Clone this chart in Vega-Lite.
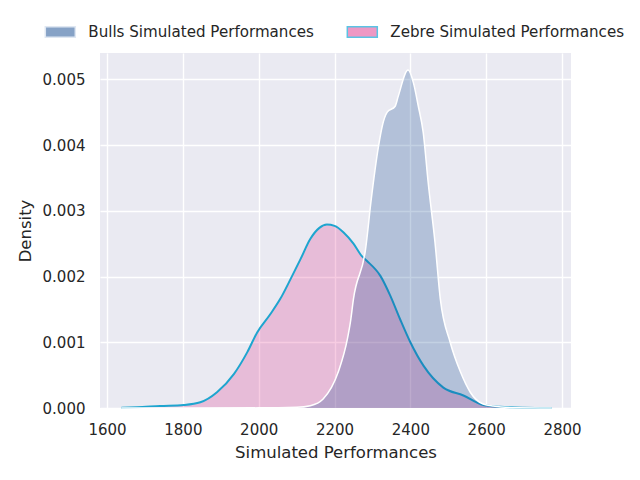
{
  "$schema": "https://vega.github.io/schema/vega-lite/v6.json",
  "autosize": {"type": "none"},
  "padding": {"left": 100, "top": 53, "right": 69, "bottom": 72},
  "width": 471,
  "height": 355,
  "background": "white",
  "config": {
    "font": "DejaVu Sans",
    "view": {"fill": "#eaeaf2", "stroke": null},
    "axis": {
      "domain": false,
      "ticks": false,
      "gridColor": "white",
      "gridWidth": 1.4,
      "labelFont": "DejaVu Sans",
      "labelFontSize": 15,
      "labelColor": "#262626",
      "titleFont": "DejaVu Sans",
      "titleFontSize": 16.5,
      "titleFontWeight": "normal",
      "titleColor": "#262626"
    },
    "legend": {
      "labelFont": "DejaVu Sans",
      "labelFontSize": 15.1,
      "labelColor": "#262626",
      "labelLimit": 400
    }
  },
  "datasets": {
    "kde": [
      {"team": "Zebre Simulated Performances", "perf": 1638, "density": 0.000002},
      {"team": "Zebre Simulated Performances", "perf": 1679, "density": 0.00001},
      {"team": "Zebre Simulated Performances", "perf": 1740, "density": 0.00003},
      {"team": "Zebre Simulated Performances", "perf": 1802, "density": 0.000046},
      {"team": "Zebre Simulated Performances", "perf": 1846, "density": 0.000087},
      {"team": "Zebre Simulated Performances", "perf": 1890, "density": 0.00024},
      {"team": "Zebre Simulated Performances", "perf": 1935, "density": 0.00052},
      {"team": "Zebre Simulated Performances", "perf": 1970, "density": 0.00085},
      {"team": "Zebre Simulated Performances", "perf": 1996, "density": 0.00115},
      {"team": "Zebre Simulated Performances", "perf": 2031, "density": 0.00143},
      {"team": "Zebre Simulated Performances", "perf": 2057, "density": 0.00166},
      {"team": "Zebre Simulated Performances", "perf": 2084, "density": 0.00196},
      {"team": "Zebre Simulated Performances", "perf": 2110, "density": 0.00226},
      {"team": "Zebre Simulated Performances", "perf": 2136, "density": 0.00257},
      {"team": "Zebre Simulated Performances", "perf": 2160, "density": 0.00274},
      {"team": "Zebre Simulated Performances", "perf": 2180, "density": 0.00279},
      {"team": "Zebre Simulated Performances", "perf": 2200, "density": 0.00277},
      {"team": "Zebre Simulated Performances", "perf": 2224, "density": 0.00267},
      {"team": "Zebre Simulated Performances", "perf": 2250, "density": 0.0025},
      {"team": "Zebre Simulated Performances", "perf": 2272, "density": 0.00231},
      {"team": "Zebre Simulated Performances", "perf": 2285, "density": 0.00224},
      {"team": "Zebre Simulated Performances", "perf": 2321, "density": 0.00201},
      {"team": "Zebre Simulated Performances", "perf": 2347, "density": 0.00171},
      {"team": "Zebre Simulated Performances", "perf": 2373, "density": 0.00135},
      {"team": "Zebre Simulated Performances", "perf": 2400, "density": 0.001},
      {"team": "Zebre Simulated Performances", "perf": 2435, "density": 0.00064},
      {"team": "Zebre Simulated Performances", "perf": 2487, "density": 0.00031},
      {"team": "Zebre Simulated Performances", "perf": 2540, "density": 0.00019},
      {"team": "Zebre Simulated Performances", "perf": 2592, "density": 0.000046},
      {"team": "Zebre Simulated Performances", "perf": 2636, "density": 0.00002},
      {"team": "Zebre Simulated Performances", "perf": 2700, "density": 0.000005},
      {"team": "Zebre Simulated Performances", "perf": 2772, "density": 0},
      {"team": "Bulls Simulated Performances", "perf": 1638, "density": 0},
      {"team": "Bulls Simulated Performances", "perf": 2000, "density": 0.000002},
      {"team": "Bulls Simulated Performances", "perf": 2100, "density": 0.00001},
      {"team": "Bulls Simulated Performances", "perf": 2136, "density": 0.000035},
      {"team": "Bulls Simulated Performances", "perf": 2170, "density": 0.000137},
      {"team": "Bulls Simulated Performances", "perf": 2210, "density": 0.00055},
      {"team": "Bulls Simulated Performances", "perf": 2234, "density": 0.00105},
      {"team": "Bulls Simulated Performances", "perf": 2242, "density": 0.00131},
      {"team": "Bulls Simulated Performances", "perf": 2250, "density": 0.00166},
      {"team": "Bulls Simulated Performances", "perf": 2282, "density": 0.00242},
      {"team": "Bulls Simulated Performances", "perf": 2297, "density": 0.00318},
      {"team": "Bulls Simulated Performances", "perf": 2316, "density": 0.00398},
      {"team": "Bulls Simulated Performances", "perf": 2326, "density": 0.00429},
      {"team": "Bulls Simulated Performances", "perf": 2339, "density": 0.0045},
      {"team": "Bulls Simulated Performances", "perf": 2360, "density": 0.00459},
      {"team": "Bulls Simulated Performances", "perf": 2368, "density": 0.00474},
      {"team": "Bulls Simulated Performances", "perf": 2394, "density": 0.00514},
      {"team": "Bulls Simulated Performances", "perf": 2408, "density": 0.00495},
      {"team": "Bulls Simulated Performances", "perf": 2421, "density": 0.00459},
      {"team": "Bulls Simulated Performances", "perf": 2434, "density": 0.00419},
      {"team": "Bulls Simulated Performances", "perf": 2447, "density": 0.00343},
      {"team": "Bulls Simulated Performances", "perf": 2465, "density": 0.00252},
      {"team": "Bulls Simulated Performances", "perf": 2479, "density": 0.00166},
      {"team": "Bulls Simulated Performances", "perf": 2505, "density": 0.001},
      {"team": "Bulls Simulated Performances", "perf": 2532, "density": 0.00055},
      {"team": "Bulls Simulated Performances", "perf": 2558, "density": 0.00024},
      {"team": "Bulls Simulated Performances", "perf": 2592, "density": 0.00006},
      {"team": "Bulls Simulated Performances", "perf": 2618, "density": 0.00003},
      {"team": "Bulls Simulated Performances", "perf": 2680, "density": 0.000005},
      {"team": "Bulls Simulated Performances", "perf": 2772, "density": 0}
    ]
  },
  "data": {"name": "kde"},
  "encoding": {
    "x": {
      "field": "perf",
      "type": "quantitative",
      "title": "Simulated Performances",
      "scale": {"domain": [1581.5, 2823.7], "nice": false, "zero": false},
      "axis": {
        "values": [1600, 1800, 2000, 2200, 2400, 2600, 2800],
        "format": "d",
        "labelPadding": 14,
        "titlePadding": 7
      }
    },
    "y": {
      "field": "density",
      "type": "quantitative",
      "title": "Density",
      "scale": {"domain": [0, 0.0054], "nice": false},
      "axis": {
        "values": [0, 0.001, 0.002, 0.003, 0.004, 0.005],
        "format": ".3f",
        "labelPadding": 15,
        "titlePadding": 9
      }
    }
  },
  "layer": [
    {
      "transform": [{"filter": "datum.team === 'Zebre Simulated Performances'"}],
      "mark": {"type": "area", "interpolate": "monotone", "opacity": 0.25},
      "encoding": {
        "color": {
          "field": "team",
          "type": "nominal",
          "scale": {
            "domain": ["Bulls Simulated Performances", "Zebre Simulated Performances"],
            "range": ["#0e468e", "#de328a"]
          },
          "legend": {
            "title": null,
            "orient": "none",
            "legendX": -55.7,
            "legendY": -37.5,
            "direction": "horizontal",
            "columns": 2,
            "columnPadding": 30,
            "padding": 0,
            "symbolType": "M-1,-0.35H1V0.35H-1Z",
            "symbolSize": 900,
            "symbolOpacity": 1,
            "labelOffset": 12,
            "labelBaseline": "middle",
            "encode": {
              "symbols": {
                "update": {
                  "opacity": {"value": 1},
                  "fillOpacity": {"value": 0.5},
                  "strokeOpacity": {"value": 1},
                  "strokeWidth": {"value": 1.5},
                  "stroke": {"signal": "datum.value === 'Zebre Simulated Performances' ? '#5bc3e4' : '#dfe7f2'"}
                }
              }
            }
          }
        }
      }
    },
    {
      "transform": [{"filter": "datum.team === 'Zebre Simulated Performances'"}],
      "mark": {"type": "line", "interpolate": "monotone", "color": "#1ea5cf", "strokeWidth": 2},
      "encoding": {}
    },
    {
      "transform": [{"filter": "datum.team === 'Bulls Simulated Performances'"}],
      "mark": {"type": "area", "interpolate": "monotone", "opacity": 0.25},
      "encoding": {
        "color": {"field": "team", "type": "nominal"}
      }
    },
    {
      "transform": [{"filter": "datum.team === 'Bulls Simulated Performances'"}],
      "mark": {"type": "line", "interpolate": "monotone", "color": "white", "strokeWidth": 1.5},
      "encoding": {}
    }
  ]
}
